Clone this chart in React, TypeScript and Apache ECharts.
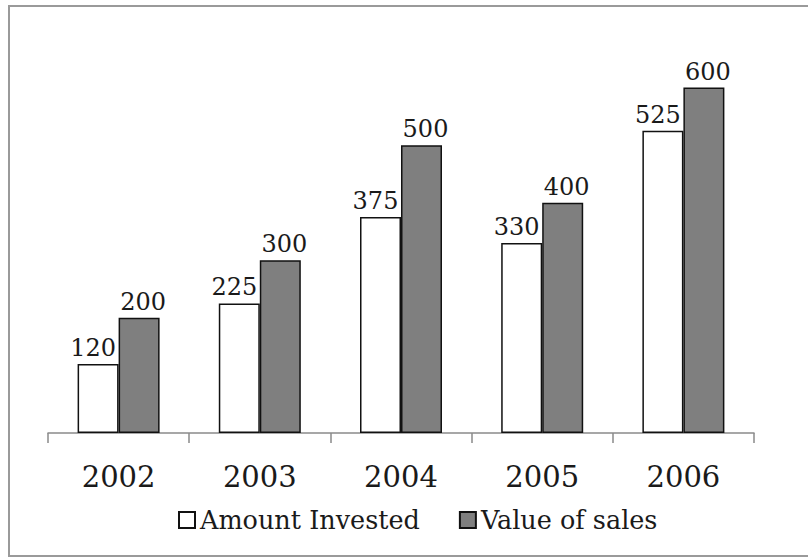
import React, { useEffect, useRef } from "react";
import * as echarts from "echarts";

const categories = ["2002", "2003", "2004", "2005", "2006"];
const amountInvested = [120, 225, 375, 330, 525];
const valueOfSales = [200, 300, 500, 400, 600];
const seriesNames = ["Amount Invested", "Value of sales"];

const FONT = "DejaVu Serif";

export default function App() {
  const ref = useRef<HTMLDivElement>(null);
  useEffect(() => {
    if (!ref.current) return;
    const chart = echarts.init(ref.current, null, { renderer: "svg" });
    chart.setOption({
      animation: false,
      backgroundColor: "#ffffff",
      textStyle: { fontFamily: FONT },
      graphic: [
        {
          type: "rect",
          shape: { x: 9, y: 6, width: 830, height: 550 },
          style: { fill: "none", stroke: "#9a9a9a", lineWidth: 2 },
          silent: true,
        },
      ],
      grid: { left: 48, right: 54, top: 30, bottom: 125, containLabel: false },
      legend: {
        left: 173,
        top: 502,
        itemWidth: 16,
        itemHeight: 16,
        itemGap: 39,
        icon: "rect",
        textStyle: { fontFamily: FONT, fontSize: 25.5, color: "#1a1a1a" },
        data: seriesNames,
      },
      xAxis: {
        type: "category",
        data: categories,
        axisLine: { show: true, lineStyle: { color: "#8a8a8a", width: 1.5 } },
        axisTick: { show: true, length: 10, lineStyle: { color: "#8a8a8a", width: 1.5 } },
        axisLabel: { fontFamily: FONT, fontSize: 29, color: "#1a1a1a", margin: 29 },
      },
      yAxis: {
        type: "value",
        min: 0,
        max: 700,
        show: false,
        splitLine: { show: false },
      },
      series: [
        {
          name: seriesNames[0],
          type: "bar",
          data: amountInvested,
          barWidth: 41,
          barGap: "0%",
          itemStyle: { color: "#ffffff", borderColor: "#111111", borderWidth: 1.5 },
          label: {
            show: true,
            position: "top",
            distance: 4,
            offset: [-5, 0],
            fontFamily: FONT,
            fontSize: 24,
            color: "#1a1a1a",
          },
        },
        {
          name: seriesNames[1],
          type: "bar",
          data: valueOfSales,
          barWidth: 41,
          barGap: "0%",
          itemStyle: { color: "#7f7f7f", borderColor: "#111111", borderWidth: 1.5 },
          label: {
            show: true,
            position: "top",
            distance: 4,
            offset: [4, 0],
            fontFamily: FONT,
            fontSize: 24,
            color: "#1a1a1a",
          },
        },
      ],
    });
    return () => chart.dispose();
  }, []);
  return (
    <div
      ref={ref}
      style={{ position: "fixed", left: 0, top: 0, width: 808, height: 558 }}
    />
  );
}
